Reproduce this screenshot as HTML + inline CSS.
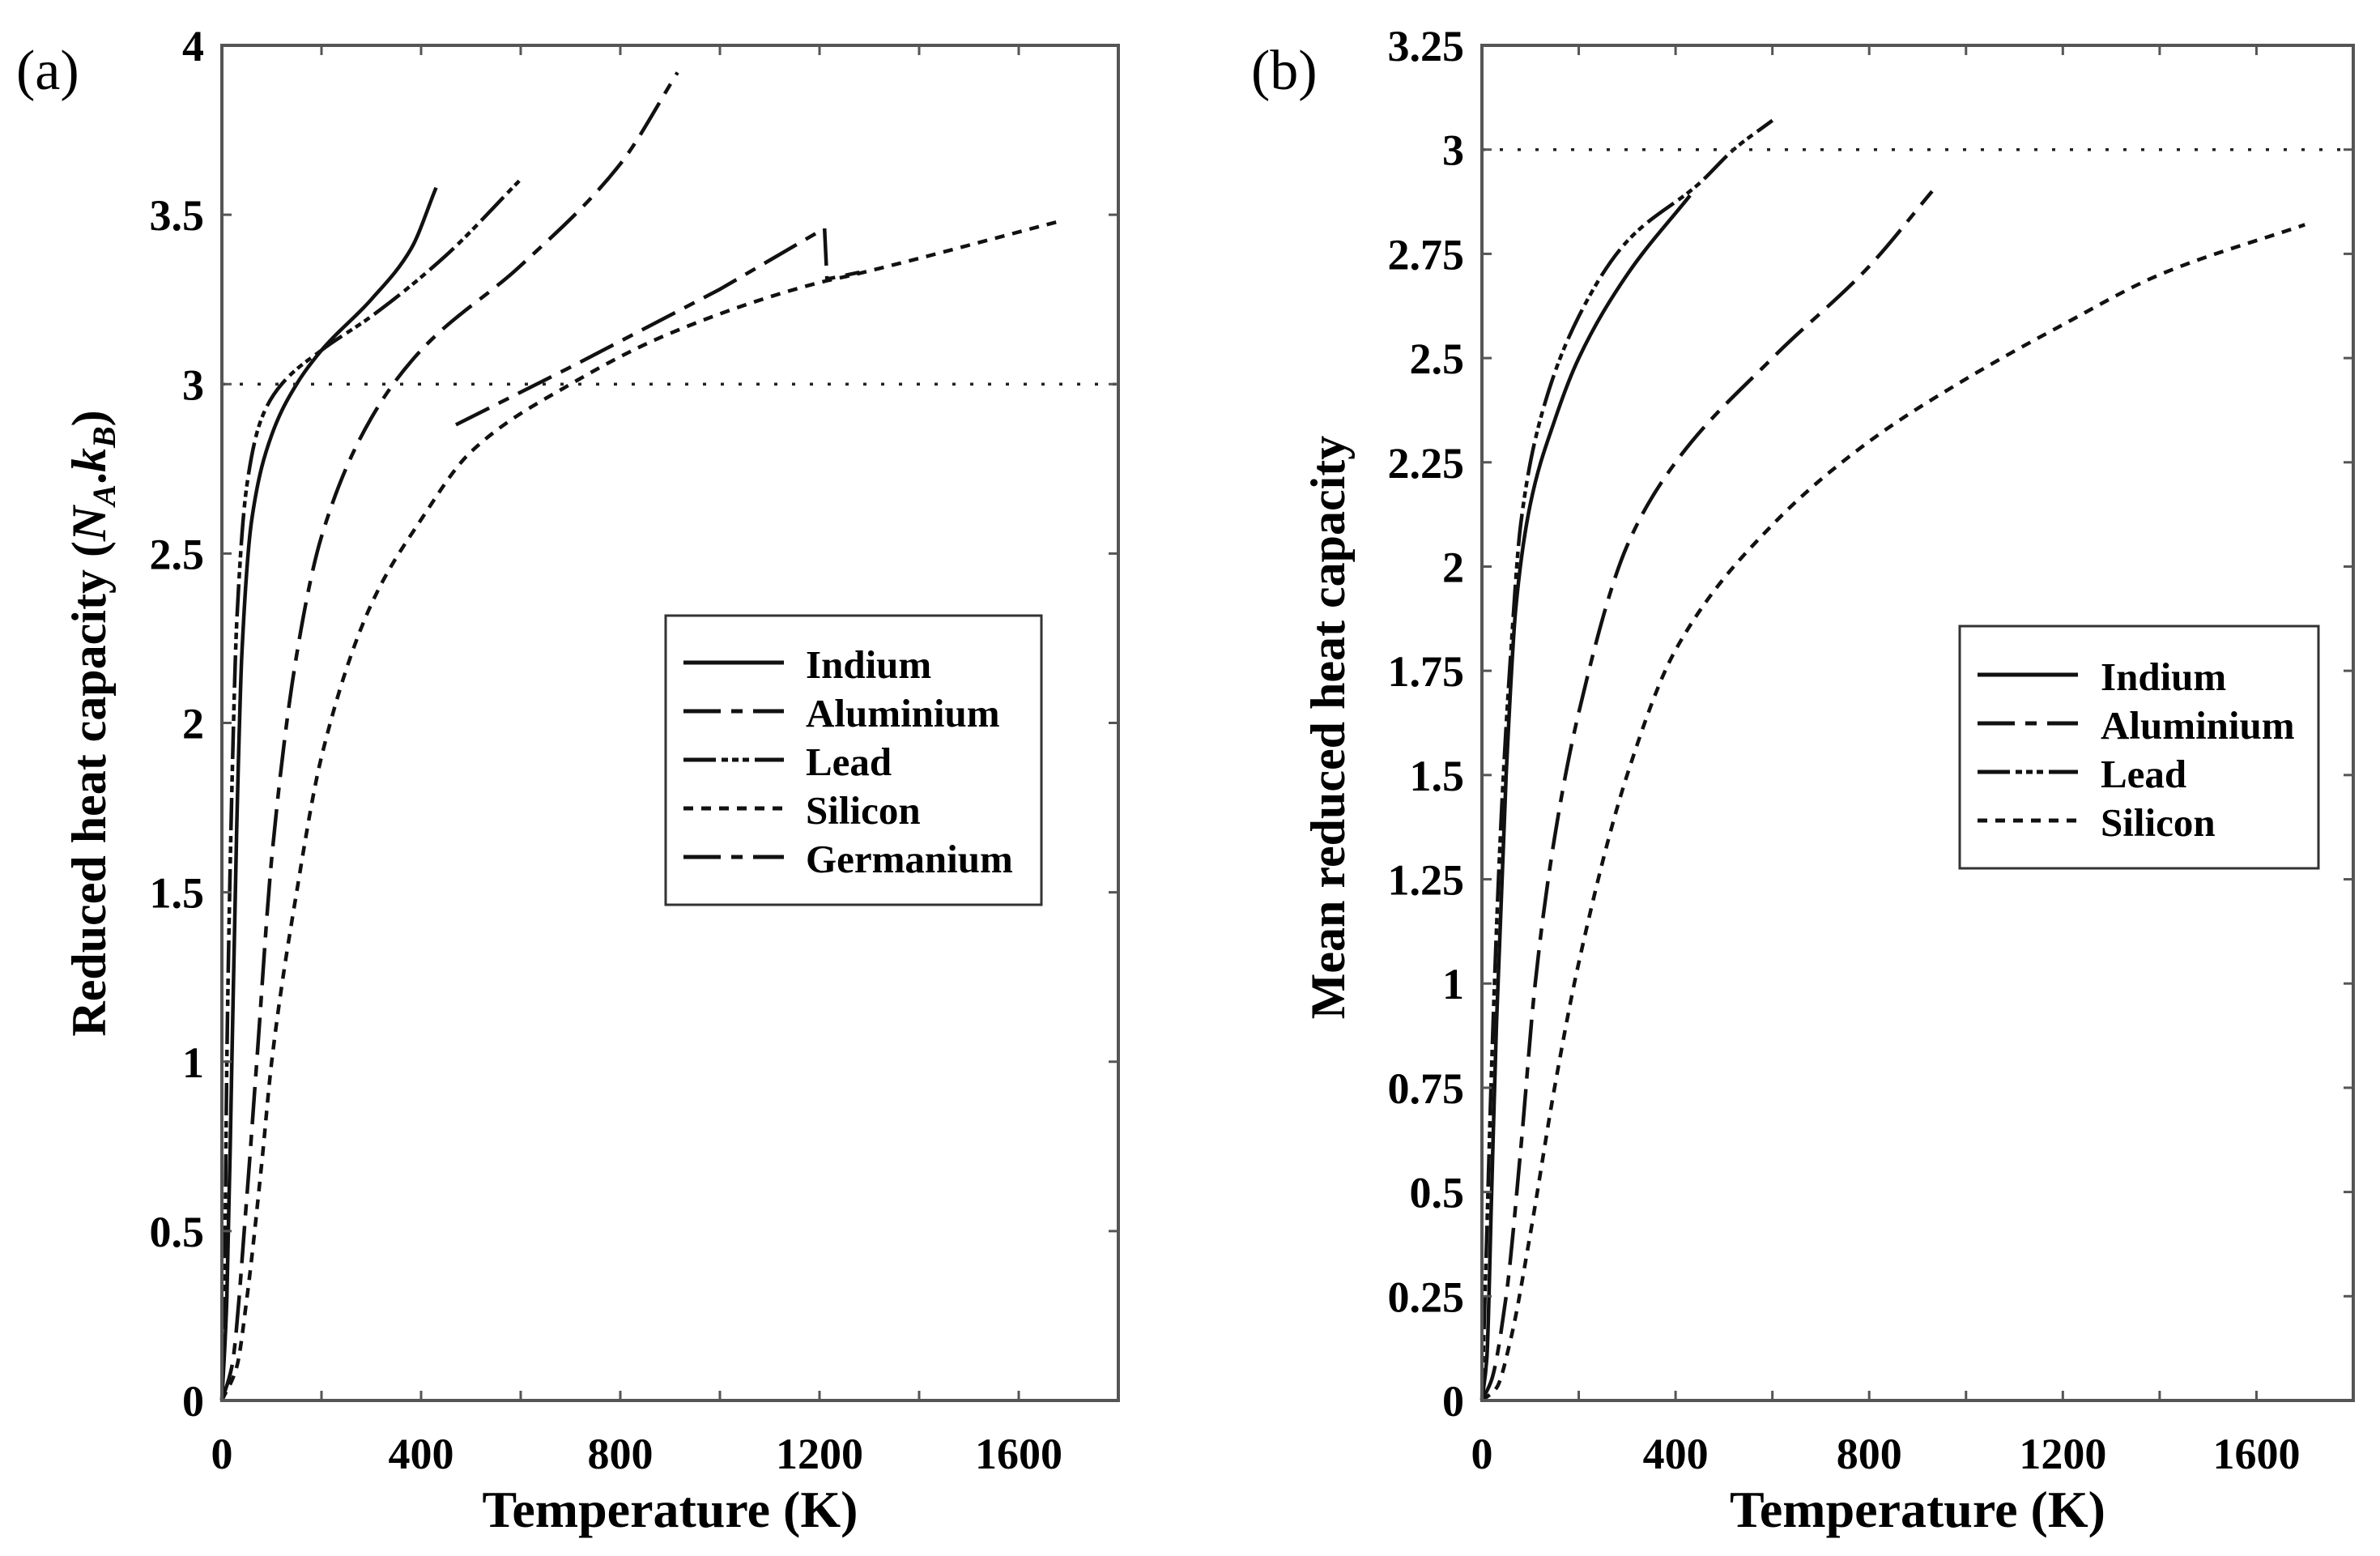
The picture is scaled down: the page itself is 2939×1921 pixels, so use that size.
<!DOCTYPE html>
<html><head><meta charset="utf-8"><style>
html,body{margin:0;padding:0;background:#fff;}
svg{display:block;font-family:"Liberation Serif",serif;}
</style></head><body>
<svg id="fig" width="2939" height="1921" viewBox="0 0 2939 1921" xmlns="http://www.w3.org/2000/svg">
<rect width="2939" height="1921" fill="#fff"/>
</svg>
<script>
// Panel (a) data
const aIndiumT = [0,10,20,30,40,60,100,150,200,300,380,430];
const aIndiumC = [0,0.3,1.0,1.7,2.2,2.6,2.85,3.0,3.1,3.25,3.4,3.58];
const aAlT = [0,20,50,70,100,150,200,300,400,600,800,915];
const aAlC = [0,0.1,0.6,1.0,1.6,2.2,2.55,2.9,3.1,3.35,3.65,3.92];
const aLeadT = [0,5,10,20,30,50,80,120,200,300,450,597];
const aLeadC = [0,0.3,1.0,1.8,2.3,2.7,2.9,3.0,3.1,3.2,3.38,3.6];
const aSiT = [0,30,50,80,100,150,200,300,400,500,700,900,1200,1260,1680];
const aSiC = [0,0.1,0.3,0.7,1.0,1.5,1.9,2.35,2.6,2.8,3.0,3.15,3.3,3.32,3.48];
const aGeT = [470,700,1000,1210,1215,1280];
const aGeC = [2.88,3.05,3.28,3.46,3.31,3.33];
const aYTicks = [0,0.5,1,1.5,2,2.5,3,3.5,4];
const aYLabels = ["0","0.5","1","1.5","2","2.5","3","3.5","4"];
// Panel (b) data
const bIndiumT = [0,10,20,30,50,70,100,150,200,300,430];
const bIndiumC = [0,0.1,0.5,0.9,1.5,1.9,2.15,2.35,2.5,2.7,2.89];
const bAlT = [0,20,50,80,110,150,200,300,400,600,800,930];
const bAlC = [0,0.05,0.25,0.6,1.0,1.35,1.65,2.05,2.25,2.5,2.72,2.9];
const bLeadT = [0,10,20,40,60,80,120,200,300,450,520,600];
const bLeadC = [0,0.4,0.8,1.4,1.8,2.1,2.35,2.6,2.78,2.92,3.0,3.07];
const bSiT = [0,30,60,100,150,200,300,400,600,800,1000,1200,1400,1700];
const bSiC = [0,0.03,0.15,0.4,0.75,1.05,1.5,1.8,2.1,2.3,2.45,2.58,2.7,2.82];
const bYTicks = [0,0.25,0.5,0.75,1,1.25,1.5,1.75,2,2.25,2.5,2.75,3,3.25];
const bYLabels = ["0","0.25","0.5","0.75","1","1.25","1.5","1.75","2","2.25","2.5","2.75","3","3.25"];
const xTicks = [0,400,800,1200,1600];
const xLabels = ["0","400","800","1200","1600"];
const xMinor = [200,600,1000,1400];

const NS="http://www.w3.org/2000/svg";
const svg=document.getElementById('fig');
function mk(tag,attrs,parent){const e=document.createElementNS(NS,tag);for(const k in attrs)e.setAttribute(k,attrs[k]);(parent||svg).appendChild(e);return e;}

const STY={
 indium:"none",
 aluminium:"46,13,14,13",
 lead:"40,7,8,5,8,5,8,7",
 silicon:"12,10",
 germanium:"46,13,14,13"
};

// monotone cubic path through pixel points
function smoothPath(px,py,linear){
 const n=px.length;
 if(linear||n<3){let d='';for(let i=0;i<n;i++)d+=(i?'L':'M')+px[i].toFixed(1)+','+py[i].toFixed(1);return d;}
 const dx=[],dy=[],m=[];
 for(let i=0;i<n-1;i++){dx.push(px[i+1]-px[i]);dy.push(py[i+1]-py[i]);m.push(dy[i]/dx[i]);}
 const t=[m[0]];
 for(let i=1;i<n-1;i++){ if(m[i-1]*m[i]<=0)t.push(0); else t.push(3*(dx[i-1]+dx[i])/((2*dx[i]+dx[i-1])/m[i-1]+(dx[i]+2*dx[i-1])/m[i])); }
 t.push(m[n-2]);
 let d='M'+px[0].toFixed(1)+','+py[0].toFixed(1);
 for(let i=0;i<n-1;i++){
  const h=dx[i]/3;
  d+='C'+(px[i]+h).toFixed(1)+','+(py[i]+t[i]*h).toFixed(1)+' '+(px[i+1]-h).toFixed(1)+','+(py[i+1]-t[i+1]*h).toFixed(1)+' '+px[i+1].toFixed(1)+','+py[i+1].toFixed(1);
 }
 return d;
}

function panel(p){
 const g=mk('g',{});
 
 
 const X=v=>p.L+(v-0)/1800*(p.R-p.L);
 const Y=v=>p.B-(v/p.ymax)*(p.B-p.T);
 p.series.forEach(s=>{
  const d=smoothPath(s.t.map(X),s.c.map(Y),s.k==='germanium');
  const a={d:d,fill:'none',stroke:'#111','stroke-width':4.5,'stroke-linejoin':'round'};
  if(STY[s.k]!=="none")a['stroke-dasharray']=STY[s.k];
  const path=mk('path',a,g);
  
  
 });
 const ref=mk('line',{x1:p.L,x2:p.R,y1:Y(3),y2:Y(3),stroke:'#222','stroke-width':3.5,'stroke-dasharray':'4,18'},g);
 
 
 const fr=mk('rect',{x:p.L,y:p.T,width:p.R-p.L,height:p.B-p.T,fill:'none',stroke:'#555','stroke-width':4},g);
 
 
 xTicks.concat(xMinor).forEach(v=>{
  mk('line',{x1:X(v),x2:X(v),y1:p.B,y2:p.B-12,stroke:'#555','stroke-width':3},g);
  mk('line',{x1:X(v),x2:X(v),y1:p.T,y2:p.T+12,stroke:'#555','stroke-width':3},g);
 });
 xTicks.forEach((v,i)=>{
  const t=mk('text',{x:X(v),y:1813,'text-anchor':'middle','font-size':54,'font-weight':'bold'},g);
  t.textContent=xLabels[i];
  
  
 });
 p.yt.forEach((v,i)=>{
  mk('line',{x1:p.L,x2:p.L+12,y1:Y(v),y2:Y(v),stroke:'#555','stroke-width':3},g);
  mk('line',{x1:p.R,x2:p.R-12,y1:Y(v),y2:Y(v),stroke:'#555','stroke-width':3},g);
  const t=mk('text',{x:p.L-22,y:Y(v)+19,'text-anchor':'end','font-size':54,'font-weight':'bold'},g);
  t.textContent=p.yl[i];
  
  
 });
 const xt=mk('text',{x:(p.L+p.R)/2,y:1885,'text-anchor':'middle','font-size':64,'font-weight':'bold'},g);
 xt.textContent='Temperature (K)';
 
 
 const yt=mk('text',{x:0,y:0,'text-anchor':'middle','font-size':60,'font-weight':'bold',transform:`translate(${p.ytx},${p.yty}) rotate(-90)`},g);
 yt.innerHTML=p.ytitle;
 
 
 const pl=mk('text',{x:p.plx,y:110,'font-size':70},g);
 pl.textContent=p.label;
 
 
 const lg=mk('g',{},g);
 
 
 mk('rect',{x:p.lg.x,y:p.lg.y,width:p.lg.w,height:p.lg.h,fill:'#fff',stroke:'#333','stroke-width':3},lg);
 p.series.forEach((s,i)=>{
  const yy=p.lg.y0+i*p.lg.dy;
  const a={x1:p.lg.lx1,x2:p.lg.lx2,y1:yy,y2:yy,stroke:'#111','stroke-width':5};
  if(STY[s.k]!=="none")a['stroke-dasharray']=STY[s.k];
  const ln=mk('line',a,lg);
  
  
  const t=mk('text',{x:p.lg.tx,y:yy+19,'font-size':49,'font-weight':'bold'},lg);
  t.textContent=s.name;
  
  
 });
}

panel({id:'a',L:274,R:1381,T:56,B:1729,ymax:4,yt:aYTicks,yl:aYLabels,label:'(a)',plx:20,
 ytx:130,yty:893,ytitle:'Reduced heat capacity (<tspan font-style="italic">N</tspan><tspan font-style="italic" font-size="40" dy="12">A</tspan><tspan dy="-12">.</tspan><tspan font-style="italic">k</tspan><tspan font-style="italic" font-size="40" dy="12">B</tspan><tspan dy="-12">)</tspan>',
 series:[{k:'indium',name:'Indium',t:aIndiumT,c:aIndiumC},{k:'aluminium',name:'Aluminium',t:aAlT,c:aAlC},{k:'lead',name:'Lead',t:aLeadT,c:aLeadC},{k:'silicon',name:'Silicon',t:aSiT,c:aSiC},{k:'germanium',name:'Germanium',t:aGeT,c:aGeC}],
 lg:{x:822,y:760,w:464,h:357,y0:818,dy:60,lx1:844,lx2:968,tx:995}});
panel({id:'b',L:1830,R:2906,T:56,B:1729,ymax:3.25,yt:bYTicks,yl:bYLabels,label:'(b)',plx:1545,
 ytx:1660,yty:898,ytitle:'Mean reduced heat capacity',
 series:[{k:'indium',name:'Indium',t:bIndiumT,c:bIndiumC},{k:'aluminium',name:'Aluminium',t:bAlT,c:bAlC},{k:'lead',name:'Lead',t:bLeadT,c:bLeadC},{k:'silicon',name:'Silicon',t:bSiT,c:bSiC}],
 lg:{x:2420,y:773,w:443,h:299,y0:833,dy:60,lx1:2442,lx2:2566,tx:2594}});
</script>
</body></html>
